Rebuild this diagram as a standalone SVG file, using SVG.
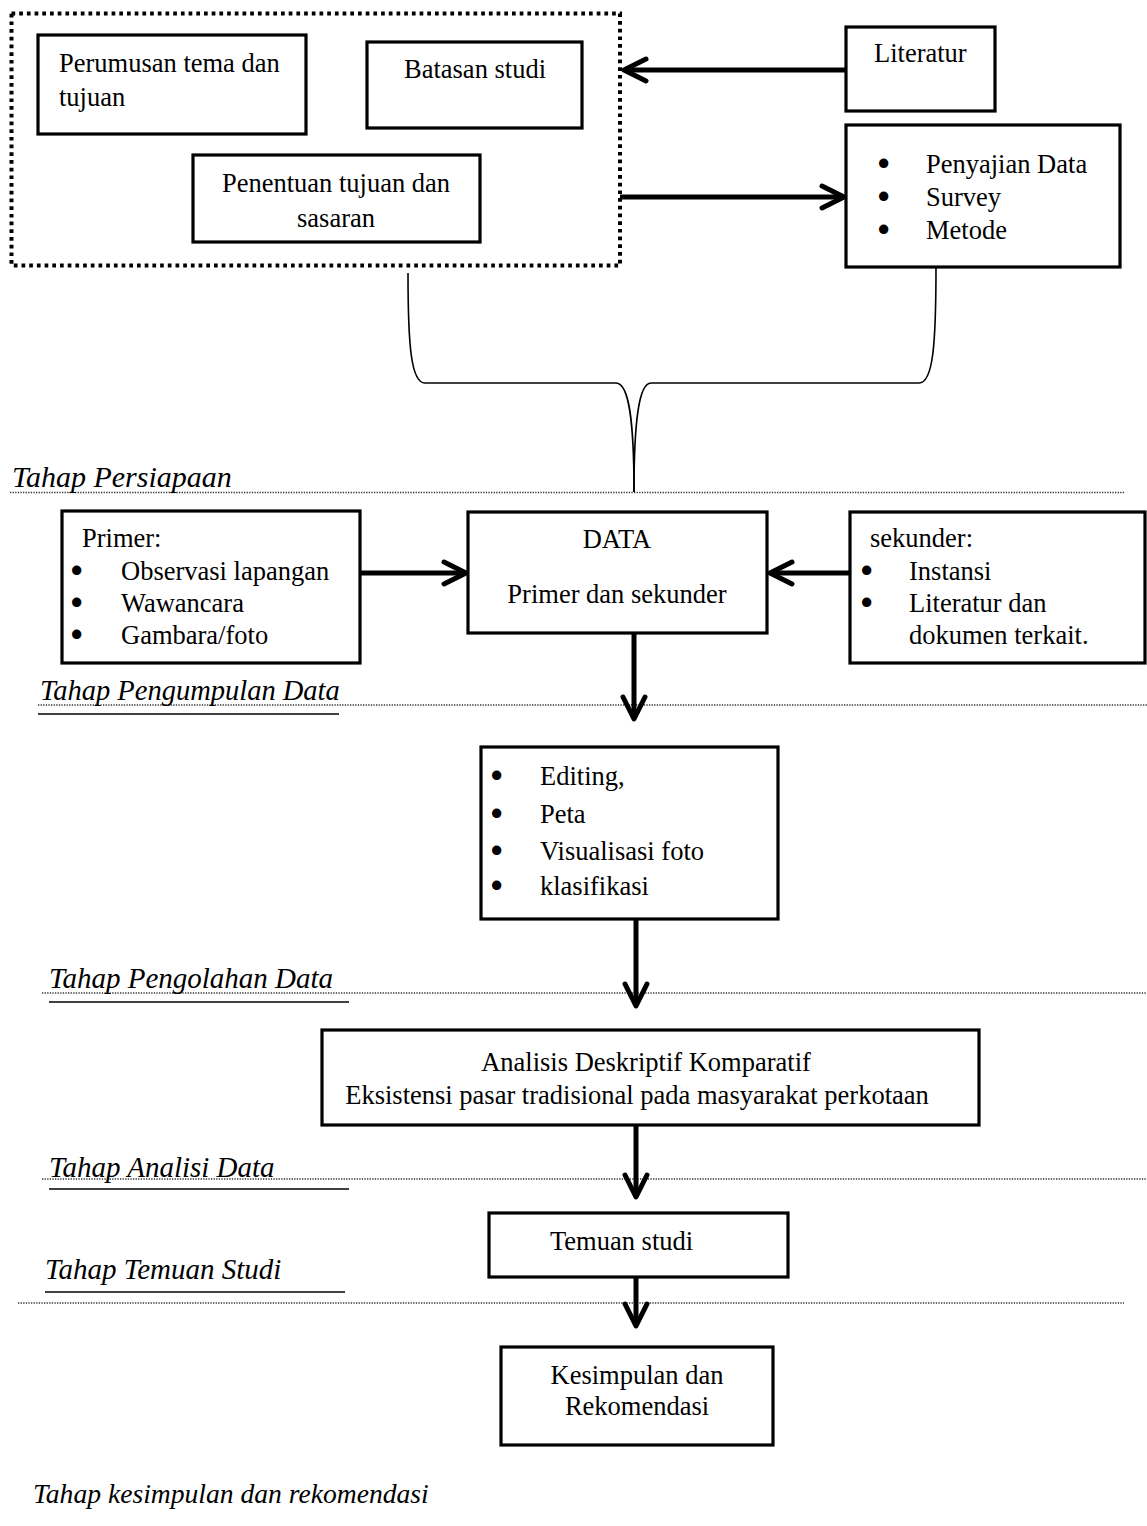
<svg xmlns="http://www.w3.org/2000/svg" width="1147" height="1526" viewBox="0 0 1147 1526">
<style>
  .bg{fill:#fff}
  .box{fill:#fff;stroke:#000;stroke-width:3.2}
  .t{font-family:"Liberation Serif","Times New Roman",serif;font-size:26.5px;fill:#000}
  .b{font-family:"Liberation Serif","Times New Roman",serif;font-size:26.5px;fill:#000;stroke:#000;stroke-width:3;stroke-linejoin:round}
  .c{text-anchor:middle}
  .h{font-family:"Liberation Serif","Times New Roman",serif;font-style:italic;font-size:29px;fill:#000}
  .arrow{stroke:#000;stroke-width:5;fill:none}
  .sep{stroke:#333;stroke-width:1.3;stroke-dasharray:1.3 1.3;fill:none}
  .ul{stroke:#000;stroke-width:1.5}
  .brace{stroke:#000;stroke-width:1.6;fill:none}
  .group{fill:none;stroke:#000;stroke-width:4;stroke-dasharray:3.7 4}
</style>
<defs>
  <marker id="ah" viewBox="-30 -16 34 32" refX="0" refY="0" markerWidth="34" markerHeight="32" markerUnits="userSpaceOnUse" orient="auto" overflow="visible">
    <path d="M-22,-11 L0,0 L-22,11" fill="none" stroke="#000" stroke-width="5" stroke-linecap="round" stroke-linejoin="round"/>
  </marker>
</defs>
<rect class="bg" x="0" y="0" width="1147" height="1526"/>

<g id="phases">
  <line class="sep" x1="10" y1="492.5" x2="1125" y2="492.5"/>
  <text class="h" x="12" y="487" style="font-size:30px">Tahap Persiapaan</text>

  <line class="sep" x1="38" y1="705" x2="1147" y2="705"/>
  <line class="ul" x1="38" y1="714" x2="339" y2="714"/>
  <text class="h" x="40" y="700" style="font-size:28.5px">Tahap Pengumpulan Data</text>

  <line class="sep" x1="42" y1="993" x2="1147" y2="993"/>
  <line class="ul" x1="49" y1="1002" x2="349" y2="1002"/>
  <text class="h" x="49" y="988">Tahap Pengolahan Data</text>

  <line class="sep" x1="42" y1="1179" x2="1147" y2="1179"/>
  <line class="ul" x1="49" y1="1189" x2="349" y2="1189"/>
  <text class="h" x="49" y="1177">Tahap Analisi Data</text>

  <line class="ul" x1="45" y1="1292" x2="345" y2="1292"/>
  <line class="sep" x1="18" y1="1303" x2="1124" y2="1303"/>
  <text class="h" x="45" y="1279">Tahap Temuan Studi</text>

  <text class="h" x="33" y="1503" style="font-size:27.6px">Tahap kesimpulan dan rekomendasi</text>
</g>

<g id="prep-group">
  <rect class="group" x="11.5" y="13.5" width="608.5" height="252"/>
</g>

<g id="n-perumusan">
  <rect class="box" x="38" y="35" width="268" height="99"/>
  <text class="t" x="59" y="72">Perumusan tema dan</text>
  <text class="t" x="59" y="106">tujuan</text>
</g>

<g id="n-batasan">
  <rect class="box" x="367" y="42" width="215" height="86"/>
  <text class="t" x="404" y="78">Batasan studi</text>
</g>

<g id="n-penentuan">
  <rect class="box" x="193" y="155" width="287" height="87"/>
  <text class="t c" x="336" y="192">Penentuan tujuan dan</text>
  <text class="t c" x="336" y="227">sasaran</text>
</g>

<g id="n-literatur">
  <rect class="box" x="846" y="27" width="149" height="84"/>
  <text class="t" x="874" y="62">Literatur</text>
</g>

<g id="n-metode">
  <rect class="box" x="846" y="125" width="274" height="142"/>
  <text class="b" x="879" y="173">•</text>
  <text class="t" x="926" y="173">Penyajian Data</text>
  <text class="b" x="879" y="206">•</text>
  <text class="t" x="926" y="206">Survey</text>
  <text class="b" x="879" y="239">•</text>
  <text class="t" x="926" y="239">Metode</text>
</g>

<g id="n-primer">
  <rect class="box" x="62" y="511" width="298" height="152"/>
  <text class="t" x="82" y="547">Primer:</text>
  <text class="b" x="72" y="580">•</text>
  <text class="t" x="121" y="580">Observasi lapangan</text>
  <text class="b" x="72" y="612">•</text>
  <text class="t" x="121" y="612">Wawancara</text>
  <text class="b" x="72" y="644">•</text>
  <text class="t" x="121" y="644">Gambara/foto</text>
</g>

<g id="n-data">
  <rect class="box" x="468" y="512" width="299" height="121"/>
  <text class="t c" x="617" y="548">DATA</text>
  <text class="t c" x="617" y="603">Primer dan sekunder</text>
</g>

<g id="n-sekunder">
  <rect class="box" x="850" y="512" width="295" height="151"/>
  <text class="t" x="870" y="547">sekunder:</text>
  <text class="b" x="862" y="580">•</text>
  <text class="t" x="909" y="580">Instansi</text>
  <text class="b" x="862" y="612">•</text>
  <text class="t" x="909" y="612">Literatur dan</text>
  <text class="t" x="909" y="644">dokumen terkait.</text>
</g>

<g id="n-pengolahan">
  <rect class="box" x="481" y="747" width="297" height="172"/>
  <text class="b" x="492" y="785">•</text>
  <text class="t" x="540" y="785">Editing,</text>
  <text class="b" x="492" y="823">•</text>
  <text class="t" x="540" y="823">Peta</text>
  <text class="b" x="492" y="860">•</text>
  <text class="t" x="540" y="860">Visualisasi foto</text>
  <text class="b" x="492" y="895">•</text>
  <text class="t" x="540" y="895">klasifikasi</text>
</g>

<g id="n-analisis">
  <rect class="box" x="322" y="1030" width="657" height="95"/>
  <text class="t c" x="646" y="1071">Analisis Deskriptif Komparatif</text>
  <text class="t c" x="637" y="1104">Eksistensi pasar tradisional pada masyarakat perkotaan</text>
</g>

<g id="n-temuan">
  <rect class="box" x="489" y="1213" width="299" height="64"/>
  <text class="t" x="550" y="1250">Temuan studi</text>
</g>

<g id="n-kesimpulan">
  <rect class="box" x="501" y="1347" width="272" height="98"/>
  <text class="t c" x="637" y="1384">Kesimpulan dan</text>
  <text class="t c" x="637" y="1415">Rekomendasi</text>
</g>

<g id="connectors">
  <line class="arrow" x1="846" y1="70" x2="624" y2="70" marker-end="url(#ah)"/>
  <line class="arrow" x1="620" y1="197" x2="844" y2="197" marker-end="url(#ah)"/>
  <path class="brace" d="M408,273 C408,345 411,383 425,383 L616,383 C629,383 634,420 634,492"/>
  <path class="brace" d="M634,492 C634,420 639,383 651,383 L919,383 C933,383 936,345 936,267"/>
  <line class="arrow" x1="360" y1="573" x2="466" y2="573" marker-end="url(#ah)"/>
  <line class="arrow" x1="850" y1="573" x2="770" y2="573" marker-end="url(#ah)"/>
  <line class="arrow" x1="634" y1="633" x2="634" y2="719" marker-end="url(#ah)"/>
  <line class="arrow" x1="636" y1="919" x2="636" y2="1006" marker-end="url(#ah)"/>
  <line class="arrow" x1="636" y1="1125" x2="636" y2="1197" marker-end="url(#ah)"/>
  <line class="arrow" x1="636" y1="1277" x2="636" y2="1326" marker-end="url(#ah)"/>
</g>
</svg>
